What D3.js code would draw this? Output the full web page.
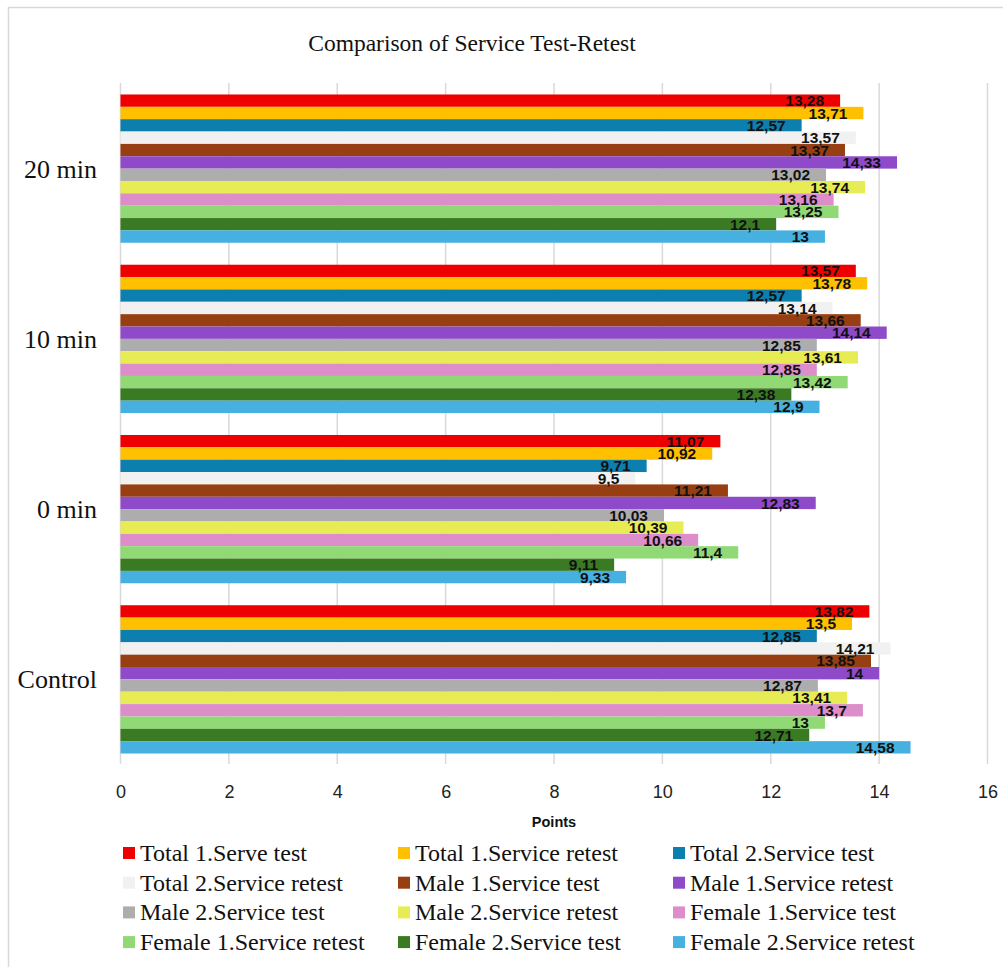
<!DOCTYPE html>
<meta charset="utf-8">
<style>
body { margin: 0; background: #fff; }
.grid line { stroke: #d9d9d9; stroke-width: 1.5px; }
.tick text { font-family: "Liberation Sans", Arial, sans-serif; font-size: 18px; fill: #222; }
.cat { font-family: "Liberation Serif", "Times New Roman", serif; font-size: 26px; fill: #111; }
.lbl { font-family: "Liberation Sans", Arial, sans-serif; font-size: 15.5px; font-weight: bold; fill: #111; }
.legend text { font-family: "Liberation Serif", "Times New Roman", serif; font-size: 24px; fill: #111; }
</style>
<svg width="1003" height="967"></svg>
<script src="https://d3js.org/d3.v7.min.js"></script>
<script>
// categories top to bottom
var categories = ["20 min", "10 min", "0 min", "Control"];

var seriesNames = [
  "Total 1.Serve test", "Total 1.Service retest", "Total 2.Service test",
  "Total 2.Service retest", "Male 1.Service test", "Male 1.Service retest",
  "Male 2.Service test", "Male 2.Service retest", "Female 1.Service test",
  "Female 1.Service retest", "Female 2.Service test", "Female 2.Service retest"
];

var colors = ["#ee0000", "#ffc000", "#0c7fae", "#f1f1f1", "#973f12", "#8e4ac8",
              "#adadad", "#e8ec54", "#dc8dca", "#90d975", "#3a7a23", "#46b0e0"];

// values per category, in series order
var min20   = [13.28, 13.71, 12.57, 13.57, 13.37, 14.33, 13.02, 13.74, 13.16, 13.25, 12.1, 13];
var min10   = [13.57, 13.78, 12.57, 13.14, 13.66, 14.14, 12.85, 13.61, 12.85, 13.42, 12.38, 12.9];
var min0    = [11.07, 10.92, 9.71, 9.5, 11.21, 12.83, 10.03, 10.39, 10.66, 11.4, 9.11, 9.33];
var control = [13.82, 13.5, 12.85, 14.21, 13.85, 14, 12.87, 13.41, 13.7, 13, 12.71, 14.58];

var xTicks = [0, 2, 4, 6, 8, 10, 12, 14, 16];

var valuesByCat = [min20, min10, min0, control];

var svg = d3.select("svg");

// chart border
svg.append("rect")
    .attr("x", 8.5).attr("y", 7.5)
    .attr("width", 1010).attr("height", 980)
    .attr("fill", "none").attr("stroke", "#d9d9d9").attr("stroke-width", 1.5);

svg.append("text")
    .attr("x", 472).attr("y", 51)
    .attr("text-anchor", "middle")
    .style("font-family", "'Liberation Serif', 'Times New Roman', serif")
    .style("font-size", "23.5px").style("fill", "#111")
    .text("Comparison of Service Test-Retest");

var x = d3.scaleLinear().domain([0, 16]).range([120.5, 987.5]);

var y = d3.scaleBand().domain(categories).range([83.5, 764.5]).paddingInner(0.129).paddingOuter(0.0645);
// bands inside each category
var y1 = d3.scaleBand().domain(d3.range(seriesNames.length)).range([0, y.bandwidth()]);

// grid
svg.append("g").attr("class", "grid")
  .selectAll("line").data(xTicks).enter().append("line")
    .attr("x1", function(d) { return x(d); })
    .attr("x2", function(d) { return x(d); })
    .attr("y1", 83).attr("y2", 764);

// axis tick labels
var xAxis = d3.axisBottom(x).tickValues(xTicks).tickSize(0).tickPadding(0);
var ax = svg.append("g").attr("transform", "translate(0,798)").call(xAxis);
ax.select(".domain").remove();
ax.selectAll(".tick text").attr("dy", 0);

svg.append("text")
    .attr("x", x(8)).attr("y", 827)
    .attr("text-anchor", "middle")
    .style("font-family", "'Liberation Sans', Arial, sans-serif")
    .style("font-size", "14.5px").style("font-weight", "bold").style("fill", "#111")
    .text("Points");

// category labels
svg.append("g").selectAll("text").data(categories).enter().append("text")
    .attr("class", "cat")
    .attr("x", 97)
    .attr("y", function(d) { return y(d) + y.bandwidth() / 2; })
    .attr("dy", "0.35em")
    .attr("text-anchor", "end")
    .text(function(d) { return d; });

// bars
var groups = svg.append("g").selectAll("g").data(categories).enter().append("g")
    .attr("transform", function(d) { return "translate(0," + y(d) + ")"; });

groups.selectAll("rect")
    .data(function(d, i) { return valuesByCat[i].map(function(v, j) { return {v: v, s: j}; }); })
    .enter().append("rect")
    .attr("x", x(0))
    .attr("y", function(d) { return y1(d.s); })
    .attr("width", function(d) { return x(d.v) - x(0); })
    .attr("height", y1.bandwidth())
    .attr("fill", function(d) { return colors[d.s]; });

groups.selectAll("text")
    .data(function(d, i) { return valuesByCat[i].map(function(v, j) { return {v: v, s: j}; }); })
    .enter().append("text")
    .attr("class", "lbl")
    .attr("x", function(d) { return x(d.v) - 16; })
    .attr("y", function(d) { return y1(d.s) + y1.bandwidth() / 2; })
    .attr("dy", "0.36em")
    .attr("text-anchor", "end")
    .text(function(d) { return String(d.v).replace(".", ","); });

// legend, 3 columns
var colX = [123, 398, 673];
var legend = svg.append("g").attr("class", "legend")
  .selectAll("g").data(seriesNames).enter().append("g")
    .attr("transform", function(d, i) {
      return "translate(" + colX[i % 3] + "," + (853 + Math.floor(i / 3) * 29.7) + ")";
    });
legend.append("rect")
    .attr("x", 0).attr("y", -6)
    .attr("width", 12).attr("height", 12)
    .attr("fill", function(d, i) { return colors[i]; });
legend.append("text")
    .attr("x", 17).attr("dy", "0.33em")
    .text(function(d) { return d; });
</script>
